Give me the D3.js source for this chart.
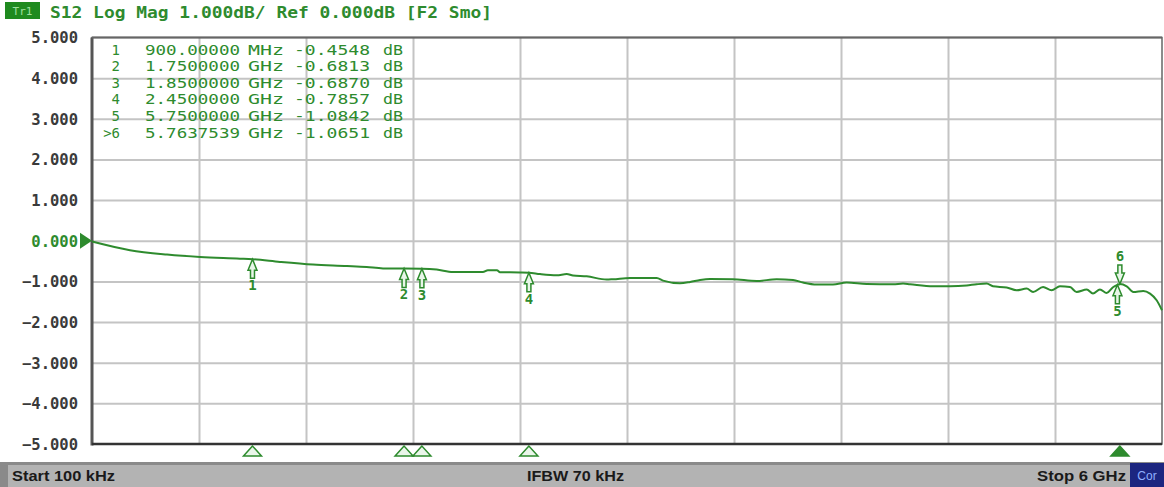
<!DOCTYPE html>
<html><head><meta charset="utf-8">
<script src="https://cdn.jsdelivr.net/npm/d3@7"></script>
<style>html,body{margin:0;padding:0;background:#fff;} svg{display:block}</style>
</head><body><svg id="c" width="1164" height="487"></svg>
<script>
// ---- data ----
const startGHz = 0.0001, stopGHz = 6;
const traceFreqGHz = [0.0001,0.213,0.421,0.606,0.830,0.9,1.054,1.239,1.430,1.540,1.632,1.75,1.85,1.933,2.024,2.192,2.220,2.271,2.288,2.400,2.45,2.512,2.606,2.662,2.697,2.774,2.886,2.922,3.017,3.167,3.202,3.297,3.354,3.410,3.466,3.594,3.727,3.839,3.931,3.987,4.064,4.155,4.232,4.344,4.492,4.548,4.587,4.716,4.811,4.905,4.961,5.017,5.052,5.129,5.185,5.241,5.277,5.333,5.381,5.428,5.484,5.521,5.578,5.613,5.652,5.690,5.727,5.75,5.764,5.802,5.839,5.895,5.933,5.970,6.0];
const traceDB = [-0.02,-0.234,-0.34,-0.40,-0.44,-0.455,-0.52,-0.585,-0.62,-0.645,-0.68,-0.681,-0.687,-0.71,-0.77,-0.77,-0.725,-0.725,-0.775,-0.78,-0.786,-0.82,-0.85,-0.82,-0.855,-0.875,-0.955,-0.947,-0.915,-0.915,-0.98,-1.045,-1.013,-0.964,-0.94,-0.947,-0.99,-0.947,-0.964,-1.028,-1.077,-1.077,-1.028,-1.063,-1.07,-1.053,-1.07,-1.12,-1.12,-1.10,-1.07,-1.053,-1.12,-1.15,-1.218,-1.176,-1.26,-1.137,-1.218,-1.12,-1.137,-1.26,-1.20,-1.30,-1.20,-1.284,-1.137,-1.084,-1.065,-1.12,-1.26,-1.235,-1.30,-1.464,-1.71];
const markerNums = ["1","2","3","4","5","6"];
const markerLabels = ["1","2","3","4","5",">6"];
const markerFreqGHz = [0.9,1.75,1.85,2.45,5.75,5.7637539];
const markerFreqText = ["900.00000","1.7500000","1.8500000","2.4500000","5.7500000","5.7637539"];
const markerUnits = ["MHz","GHz","GHz","GHz","GHz","GHz"];
const markerDB = [-0.4548,-0.6813,-0.6870,-0.7857,-1.0842,-1.0651];
const yTicks = [5,4,3,2,1,0,-1,-2,-3,-4,-5];
const titleText = "S12 Log Mag 1.000dB/ Ref 0.000dB [F2 Smo]";
const traceTag = "Tr1";
const statusStart = "Start 100 kHz", statusIfbw = "IFBW 70 kHz", statusStop = "Stop 6 GHz", statusTag = "Cor";

// ---- layout ----
const L = 92, R = 1162, T = 37.5, B = 444;
const green = "#2e8b2e";
const svg = d3.select("#c");
const x = d3.scaleLinear().domain([startGHz, stopGHz]).range([L, R]);
const y = d3.scaleLinear().domain([-5, 5]).range([B, T]);
const xGrid = d3.range(1, 10).map(i => startGHz + i * (stopGHz - startGHz) / 10);

// gridlines
svg.append("g").attr("transform", `translate(0,${B})`)
  .call(d3.axisBottom(x).tickValues(xGrid).tickSize(-(B - T)).tickFormat(""))
  .call(g => g.select(".domain").remove())
  .call(g => g.selectAll("line").attr("stroke", "#c4c4c4").attr("stroke-width", 2));
svg.append("g").attr("transform", `translate(${L},0)`)
  .call(d3.axisLeft(y).tickValues(yTicks.filter(d => d !== 5 && d !== -5)).tickSize(-(R - L)).tickFormat(""))
  .call(g => g.select(".domain").remove())
  .call(g => g.selectAll("line").attr("stroke", "#c4c4c4").attr("stroke-width", 2));

// frame
svg.append("rect").attr("x", L).attr("y", T).attr("width", R - L).attr("height", B - T)
  .attr("fill", "none").attr("stroke", "#666").attr("stroke-width", 1.5);
svg.append("line").attr("x1", L).attr("x2", L).attr("y1", T).attr("y2", B + 1.5).attr("stroke", "#555").attr("stroke-width", 3);
svg.append("line").attr("x1", L).attr("x2", R).attr("y1", B).attr("y2", B).attr("stroke", "#333").attr("stroke-width", 2.5);
svg.append("line").attr("x1", L).attr("x2", R).attr("y1", T).attr("y2", T).attr("stroke", "#666").attr("stroke-width", 2);

// y axis labels
svg.append("g").attr("transform", `translate(${L},0)`)
  .call(d3.axisLeft(y).tickValues(yTicks).tickSize(0).tickPadding(14).tickFormat(d3.format(".3f")))
  .call(g => g.select(".domain").remove())
  .call(g => g.selectAll("text")
    .attr("font-family", "DejaVu Sans Mono").attr("font-size", 15.5).attr("font-weight", "bold")
    .attr("fill", d => d === 0 ? green : "#3a3a3a").attr("dy", "0.35em"));

// reference level marker
svg.append("path").attr("d", `M${L - 12},${y(0) - 8} L${L},${y(0)} L${L - 12},${y(0) + 8} Z`).attr("fill", green);

// trace
const line = d3.line().x((d, i) => x(traceFreqGHz[i])).y(d => y(d)).curve(d3.curveMonotoneX);
svg.append("path").datum(traceDB).attr("d", line).attr("fill", "none")
  .attr("stroke", green).attr("stroke-width", 2);

// markers on trace
markerNums.forEach((m, i) => {
  const mx = x(markerFreqGHz[i]), my = y(markerDB[i]);
  const g = svg.append("g").attr("transform", `translate(${mx},${my})`);
  const dir = m === "6" ? -1 : 1;
  g.append("path").attr("d", `M0,0 L-4.5,${dir * 11} L-2,${dir * 11} L-2,${dir * 19} L2,${dir * 19} L2,${dir * 11} L4.5,${dir * 11} Z`)
    .attr("fill", "#e8f5e8").attr("stroke", green).attr("stroke-width", 1.5);
  g.append("text").attr("x", 0).attr("y", dir > 0 ? 31 : -23).attr("text-anchor", "middle")
    .attr("font-family", "DejaVu Sans Mono").attr("font-size", 14).attr("font-weight", "bold")
    .attr("fill", green).text(m);
});

// markers below axis
markerNums.forEach((m, i) => {
  const mx = x(markerFreqGHz[i]);
  if (m === "5") return;
  svg.append("path").attr("d", `M${mx},${B + 2} L${mx - 9},${B + 12} L${mx + 9},${B + 12} Z`)
    .attr("fill", m === "6" ? green : "#eaf6ea").attr("stroke", green).attr("stroke-width", 1.5);
});

// marker table
const tf = "DejaVu Sans Mono";
markerNums.forEach((m, i) => {
  const by = 54.5 + i * 16.6;
  const t = (txt, xx, anchor, len) => {
    const e = svg.append("text").attr("x", xx).attr("y", by).attr("text-anchor", anchor)
      .attr("font-family", tf).attr("font-size", 14).attr("fill", green).text(txt);
    if (len) e.attr("textLength", len).attr("lengthAdjust", "spacingAndGlyphs");
  };
  t(markerLabels[i], 120, "end");
  t(markerFreqText[i], 145, "start", 95);
  t(markerUnits[i], 248, "start", 36);
  t(d3.format(".4f")(markerDB[i]).replace("−", "-"), 294, "start", 76);
  t("dB", 383, "start", 20);
});

// title
svg.append("rect").attr("x", 5).attr("y", 2).attr("width", 35).attr("height", 17).attr("fill", "#1f8a1f");
svg.append("text").attr("x", 22.5).attr("y", 15).attr("text-anchor", "middle").attr("font-family", tf)
  .attr("font-size", 11).attr("fill", "#9fe09f").text(traceTag);
svg.append("text").attr("x", 50).attr("y", 17.5).attr("font-family", tf).attr("font-size", 16)
  .attr("font-weight", "bold").attr("fill", green).attr("textLength", 442).attr("lengthAdjust", "spacingAndGlyphs")
  .text(titleText);

// status bar
svg.append("rect").attr("x", 0).attr("y", 462).attr("width", 1164).attr("height", 25).attr("fill", "#b3b3b3");
svg.append("rect").attr("x", 0).attr("y", 462).attr("width", 1164).attr("height", 3).attr("fill", "#8a8a8a");
svg.append("rect").attr("x", 0).attr("y", 462).attr("width", 8).attr("height", 25).attr("fill", "#8a8a8a");
const st = (txt, xx, len) => svg.append("text").attr("x", xx).attr("y", 481).attr("font-family", "Liberation Sans")
  .attr("font-size", 15).attr("font-weight", "bold").attr("fill", "#1a1a1a")
  .attr("textLength", len).attr("lengthAdjust", "spacingAndGlyphs").text(txt);
st(statusStart, 12, 103);
st(statusIfbw, 527, 97);
st(statusStop, 1037, 89);
svg.append("rect").attr("x", 1130).attr("y", 463).attr("width", 34).attr("height", 24).attr("fill", "#1c2680");
svg.append("text").attr("x", 1147).attr("y", 480).attr("text-anchor", "middle").attr("font-family", "Liberation Sans")
  .attr("font-size", 12).attr("fill", "#8fb0ff").text(statusTag);
</script></body></html>
